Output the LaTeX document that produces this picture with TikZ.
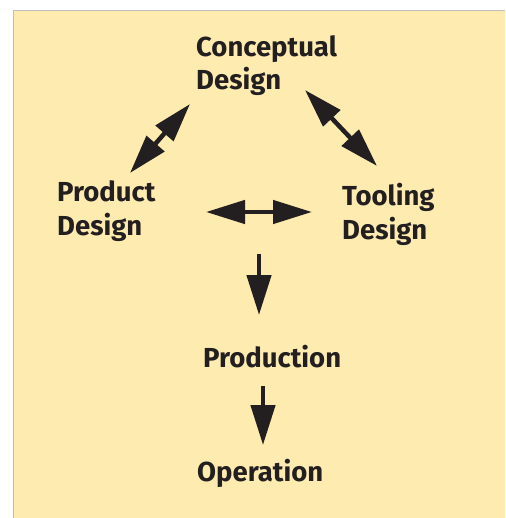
\documentclass[tikz,border=0pt]{standalone}
\usepackage{fontspec}
\setmainfont{Fira Sans}
\usetikzlibrary{arrows.meta}
\definecolor{panel}{HTML}{FEEBB0}
\definecolor{ink}{HTML}{231F20}
\definecolor{rim}{HTML}{BEBEBE}
\begin{document}
\begin{tikzpicture}[x=1pt,y=-1pt,
  label/.style={anchor=base west,inner sep=0pt,align=left,text=ink,
    font=\bfseries\fontsize{27.5}{33}\selectfont},
  flow/.style={draw=ink,line width=4.5pt,
    {Triangle[length=39pt,width=23pt]}-{Triangle[length=39pt,width=23pt]}},
  oneway/.style={draw=ink,line width=4.5pt,-{Triangle[length=40pt,width=24pt]}}]
  \useasboundingbox (0,0) rectangle (505,518);
  % panel with a thin rule on its left and top edges
  \fill[panel] (13.5,10.5) rectangle (505,518);
  \draw[rim,line width=1.2pt] (13.5,518) -- (13.5,10.5) -- (505,10.5);

  % stage labels (base anchor sits on the last line)
  \node[label] (concept) at (196,90) {Conceptual\\Design};
  \node[label] (product) at (57,235) {Product\\Design};
  \node[label] (tooling) at (342,239) {Tooling\\Design};
  \node[label] (production) at (203,367) {Production};
  \node[label] (operation) at (197,481) {Operation};

  % arrow end points
  \coordinate (pcA) at (130,173);
  \coordinate (pcB) at (190,104);
  \coordinate (ctA) at (305,90);
  \coordinate (ctB) at (377,166);
  \coordinate (ptA) at (206,212);
  \coordinate (ptB) at (312,212);
  \coordinate (dnA) at (259,254);
  \coordinate (dnB) at (259,315);
  \coordinate (opA) at (263,386);
  \coordinate (opB) at (263,445);

  \draw[flow] (pcA) -- (pcB);
  \draw[flow] (ctA) -- (ctB);
  \draw[flow] (ptA) -- (ptB);
  \draw[oneway] (dnA) -- (dnB);
  \draw[oneway] (opA) -- (opB);
\end{tikzpicture}
\end{document}
